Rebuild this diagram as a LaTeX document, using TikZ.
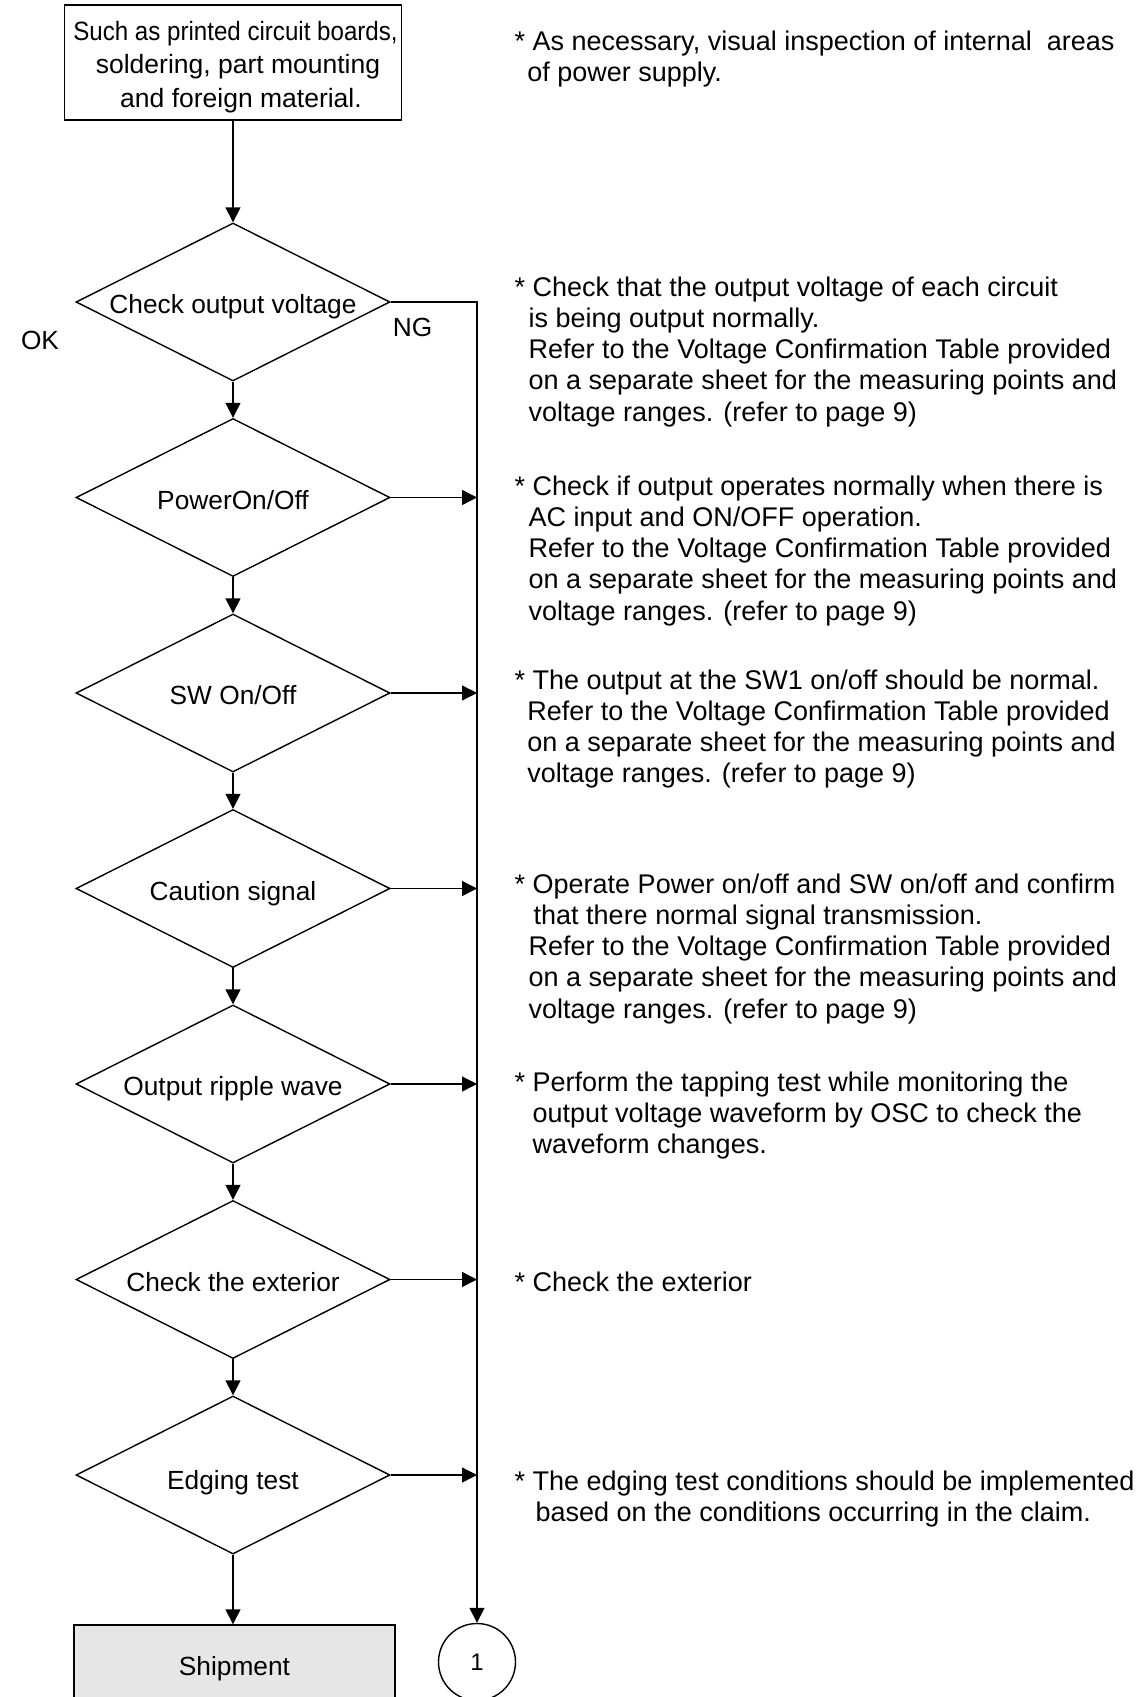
\documentclass[tikz,border=0pt]{standalone}
\usepackage{fontspec}
\setmainfont{Liberation Sans}
\usetikzlibrary{shapes.geometric,arrows.meta}
\definecolor{shipgray}{RGB}{230,230,230}
\newcommand{\rtxt}[1]{\begin{tabular}[t]{@{}l@{}}#1\end{tabular}}
\newcommand{\ctxt}[1]{\begin{tabular}[t]{@{}c@{}}#1\end{tabular}}
\begin{document}
\begin{tikzpicture}[x=1pt,y=-1pt,line width=1.4pt,
  dia/.style={diamond,draw,aspect=2,inner sep=0pt,minimum width=314pt,minimum height=158pt,text height=23pt,text depth=0pt,font=\fontsize{26.3}{31}\selectfont},
  topbox/.style={draw,minimum width=337pt,minimum height=115pt,inner sep=0pt},
  boxtext/.style={anchor=base,inner sep=0pt,font=\fontsize{26.5}{33.5}\selectfont},
  shipbox/.style={draw,fill=shipgray,minimum width=321pt,minimum height=80pt,inner sep=0pt,text height=20pt,text depth=0pt,font=\fontsize{26.3}{31}\selectfont},
  conbox/.style={circle,draw,minimum size=77pt,inner sep=0pt,font=\fontsize{24}{30}\selectfont},
  arr/.style={-{Triangle[length=15pt,width=15pt]}},
  note/.style={anchor=base west,inner sep=0pt,font=\fontsize{27}{31.3}\selectfont},
  lbl/.style={inner sep=0pt,font=\fontsize{26.3}{31}\selectfont}]
\useasboundingbox (0,0) rectangle (1144,1697);

\node[topbox] (start) at (233,62.5) {};
\node[boxtext] (starttext) at (235.5,40) {\ctxt{\scalebox{0.91}[1]{Such as printed circuit boards,}\\\hspace*{5pt}soldering, part mounting\\\hspace*{11pt}and foreign material.}};

\node[dia] (d1) at (233,302) {Check output voltage};
\node[dia] (d2) at (233,497.5) {PowerOn/Off};
\node[dia] (d3) at (233,693) {SW On/Off};
\node[dia] (d4) at (233,888.5) {Caution signal};
\node[dia] (d5) at (233,1084) {Output ripple wave};
\node[dia] (d6) at (233,1279.5) {Check the exterior};
\node[dia,text height=28pt] (d7) at (233,1475) {Edging test};

\node[shipbox] (ship) at (234.5,1665) {Shipment};
\node[conbox] (conn) at (477,1662) {1};

\coordinate (j2) at (477,497.5);
\coordinate (j3) at (477,693);
\coordinate (j4) at (477,888.5);
\coordinate (j5) at (477,1084);
\coordinate (j6) at (477,1279.5);
\coordinate (j7) at (477,1475);

\node[lbl] (ok) at (40,340) {OK};
\node[lbl] (ng) at (412.5,327) {NG};

\draw[arr] (start.south) -- (d1.north);
\draw[arr] (d1.south) -- (d2.north);
\draw[arr] (d2.south) -- (d3.north);
\draw[arr] (d3.south) -- (d4.north);
\draw[arr] (d4.south) -- (d5.north);
\draw[arr] (d5.south) -- (d6.north);
\draw[arr] (d6.south) -- (d7.north);
\draw[arr] (d7.south) -- (d7.south |- ship.north);
\draw[arr] (d1.east) -| (conn.north);
\draw[arr] (d2.east) -- (j2);
\draw[arr] (d3.east) -- (j3);
\draw[arr] (d4.east) -- (j4);
\draw[arr] (d5.east) -- (j5);
\draw[arr] (d6.east) -- (j6);
\draw[arr] (d7.east) -- (j7);

\node[note] (n1) at (514,50) {\rtxt{* As necessary, visual inspection of internal\ \ areas\\\hspace*{12.7pt}of power supply.}};
\node[note] (n2) at (514,296) {\rtxt{* Check that the output voltage of each circuit\\\hspace*{14pt}is being output normally.\\\hspace*{14pt}Refer to the Voltage Confirmation Table provided\\\hspace*{14pt}on a separate sheet for the measuring points and\\\hspace*{14pt}voltage ranges. (refer to page 9)}};
\node[note] (n3) at (514,495) {\rtxt{* Check if output operates normally when there is\\\hspace*{14pt}AC input and ON/OFF operation.\\\hspace*{14pt}Refer to the Voltage Confirmation Table provided\\\hspace*{14pt}on a separate sheet for the measuring points and\\\hspace*{14pt}voltage ranges. (refer to page 9)}};
\node[note] (n4) at (514,689) {\rtxt{* The output at the SW1 on/off should be normal.\\\hspace*{12.7pt}Refer to the Voltage Confirmation Table provided\\\hspace*{12.7pt}on a separate sheet for the measuring points and\\\hspace*{12.7pt}voltage ranges. (refer to page 9)}};
\node[note] (n5) at (514,893) {\rtxt{* Operate Power on/off and SW on/off and confirm\\\hspace*{19pt}that there normal signal transmission.\\\hspace*{14pt}Refer to the Voltage Confirmation Table provided\\\hspace*{14pt}on a separate sheet for the measuring points and\\\hspace*{14pt}voltage ranges. (refer to page 9)}};
\node[note] (n6) at (514,1091) {\rtxt{* Perform the tapping test while monitoring the\\\hspace*{18pt}output voltage waveform by OSC to check the\\\hspace*{18pt}waveform changes.}};
\node[note] (n7) at (514,1291) {\rtxt{* Check the exterior}};
\node[note] (n8) at (514,1490) {\rtxt{* The edging test conditions should be implemented\\\hspace*{21pt}based on the conditions occurring in the claim.}};
\end{tikzpicture}
\end{document}
